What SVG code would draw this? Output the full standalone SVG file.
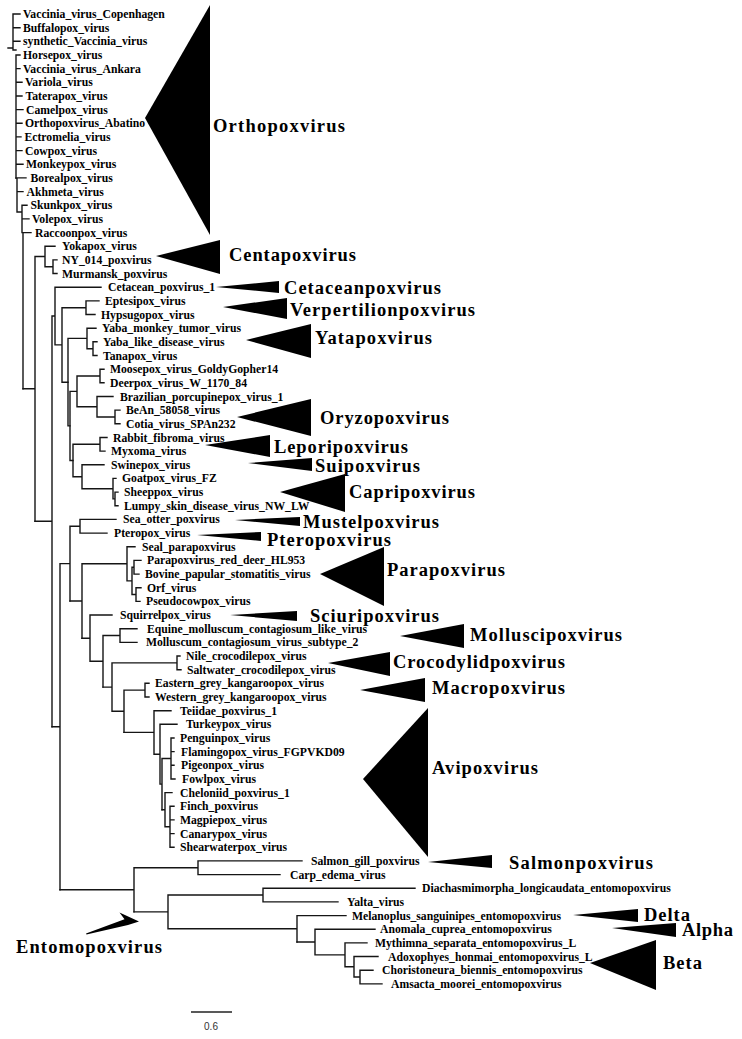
<svg xmlns="http://www.w3.org/2000/svg" width="742" height="1039" viewBox="0 0 742 1039">
<style>
.leaf{font-family:"Liberation Serif","Times New Roman",serif;font-weight:bold;font-size:11.7px;fill:#000}
.clade{font-family:"Liberation Serif","Times New Roman",serif;font-weight:bold;font-size:18.5px;fill:#000}
.br{stroke:#151515;stroke-width:1.4;fill:none;stroke-linecap:square}
.tri{fill:#000}
.scale{font-family:"Liberation Sans",Arial,sans-serif;font-size:10px;fill:#333}
</style>
<rect width="742" height="1039" fill="#fff"/>
<g id="branches" class="br">
<path d="M8,48H13 M13,14V50 M13,14H20 M13,27.7H20 M13,41.3H20 M13,50H16 M16,55V178 M16,55H20 M16,68.6H20 M16,82.3H22 M16,96H22 M16,109.6H23 M16,123.3H22 M16,136.9H21 M16,150.6H22 M16,164.3H23"/>
<path d="M16,178H17 M17,178V212 M17,177.9H26 M17,191.6H23 M17,212H22 M22,205.2V232.6 M22,205.2H27 M22,218.9H29 M22,232.6H23 M23,232.6V388.8 M23,232.6H31"/>
<path d="M23,388.8H35 M35,256.5V521.2 M35,256.5H45 M45,246.2V266.7 M45,246.2H55 M45,266.7H53 M53,259.9V273.5 M53,259.9H57 M53,273.5H57"/>
<path d="M35,521.2H52 M52,316V726.7 M52,316H55 M55,287.2V344.9 M55,287.2H101 M55,344.9H62 M62,307.7V382.2 M62,307.7H86 M62,382.2H68 M86,300.9V314.5 M86,300.9H99 M86,314.5H95"/>
<path d="M68,338.4V425.9 M68,338.4H87 M68,425.9H70 M87,328.2V348.7 M87,328.2H96 M87,348.7H93 M93,341.8V355.5 M93,341.8H97 M93,355.5H97"/>
<path d="M70,391.4V460.5 M70,391.4H77 M70,460.5H73 M77,376V406.7 M77,376H100 M77,406.7H97 M100,369.2V382.8 M100,369.2H104 M100,382.8H104 M97,396.5V417 M97,396.5H113 M97,417H115 M115,410.1V423.8 M115,410.1H120 M115,423.8H120"/>
<path d="M73,444.3V476.7 M73,444.3H100 M73,476.7H82 M100,437.5V451.1 M100,437.5H107 M100,451.1H105 M82,464.8V488.7 M82,464.8H104 M82,488.7H113 M113,478.4V498.9 M113,478.4H116 M113,498.9H115 M115,492.1V505.8 M115,492.1H118 M115,505.8H118"/>
<path d="M52,726.7H60 M60,563.6V889.8 M60,563.6H70 M70,526.3V601 M70,526.3H80 M80,519.4V533.1 M80,519.4H116 M80,533.1H107"/>
<path d="M70,601H82 M82,563.8V638.2 M82,563.8H127 M127,546.7V580.9 M127,546.7H135 M127,580.9H132 M132,567.2V594.5 M132,567.2H134 M132,594.5H136 M134,560.4V574.1 M134,560.4H141 M134,574.1H139 M136,587.7V601.4 M136,587.7H141 M136,601.4H140"/>
<path d="M82,638.2H90 M90,615V661.3 M90,615H112 M90,661.3H103 M103,635.5V687.1 M103,635.5H120 M120,628.7V642.4 M120,628.7H137 M120,642.4H137"/>
<path d="M103,687.1H112 M112,662.9V711.3 M112,662.9H177 M177,656V669.7 M177,656H180 M177,669.7H181 M112,711.3H124 M124,690.1V732.4 M124,690.1H145 M145,683.3V697 M145,683.3H149 M145,697H149"/>
<path d="M124,732.4H154 M154,710.7V754.2 M154,710.7H171 M154,754.2H160 M160,724.3V784.1 M160,724.3H177 M160,784.1H162 M162,758.5V809.7 M162,758.5H171 M171,738V779 M171,738H174 M171,751.6H174 M171,765.3H174 M171,779H175"/>
<path d="M162,809.7H165 M165,792.6V826.8 M165,792.6H172 M165,826.8H170 M170,806.3V847.3 M170,806.3H174 M170,819.9H174 M170,833.6H174 M170,847.3H174"/>
<path d="M60,889.8H134 M134,867.8V911.9 M134,867.8H198 M198,860.9V874.6 M198,860.9H302 M198,874.6H280"/>
<path d="M134,911.9H168 M168,895V928.8 M168,895H263 M263,888.2V901.9 M263,888.2H415 M263,901.9H338 M168,928.8H297 M297,915.6V942 M297,915.6H346"/>
<path d="M297,942H315 M315,929.2V954.9 M315,929.2H375 M315,954.9H345 M345,942.9V966.8 M345,942.9H367 M345,966.8H354 M354,956.5V977 M354,956.5H378 M354,977H360 M360,970.2V983.9 M360,970.2H373 M360,983.9H382"/>
</g>
<g id="leaves" class="leaf">
<g id="leaf-Vaccinia_virus_Copenhagen"><text x="23" y="18">Vaccinia_virus_Copenhagen</text></g>
<g id="leaf-Buffalopox_virus"><text x="23" y="31.7">Buffalopox_virus</text></g>
<g id="leaf-synthetic_Vaccinia_virus"><text x="23" y="45.3">synthetic_Vaccinia_virus</text></g>
<g id="leaf-Horsepox_virus"><text x="23" y="59">Horsepox_virus</text></g>
<g id="leaf-Vaccinia_virus_Ankara"><text x="23" y="72.6">Vaccinia_virus_Ankara</text></g>
<g id="leaf-Variola_virus"><text x="25" y="86.3">Variola_virus</text></g>
<g id="leaf-Taterapox_virus"><text x="25.5" y="100">Taterapox_virus</text></g>
<g id="leaf-Camelpox_virus"><text x="26" y="113.6">Camelpox_virus</text></g>
<g id="leaf-Orthopoxvirus_Abatino"><text x="25" y="127.3">Orthopoxvirus_Abatino</text></g>
<g id="leaf-Ectromelia_virus"><text x="24.5" y="140.9">Ectromelia_virus</text></g>
<g id="leaf-Cowpox_virus"><text x="25" y="154.6">Cowpox_virus</text></g>
<g id="leaf-Monkeypox_virus"><text x="26" y="168.3">Monkeypox_virus</text></g>
<g id="leaf-Borealpox_virus"><text x="30.5" y="181.9">Borealpox_virus</text></g>
<g id="leaf-Akhmeta_virus"><text x="26.5" y="195.6">Akhmeta_virus</text></g>
<g id="leaf-Skunkpox_virus"><text x="30.5" y="209.2">Skunkpox_virus</text></g>
<g id="leaf-Volepox_virus"><text x="32" y="222.9">Volepox_virus</text></g>
<g id="leaf-Raccoonpox_virus"><text x="35" y="236.6">Raccoonpox_virus</text></g>
<g id="leaf-Yokapox_virus"><text x="62" y="250.2">Yokapox_virus</text></g>
<g id="leaf-NY_014_poxvirus"><text x="62" y="263.9">NY_014_poxvirus</text></g>
<g id="leaf-Murmansk_poxvirus"><text x="62" y="277.5">Murmansk_poxvirus</text></g>
<g id="leaf-Cetacean_poxvirus_1"><text x="108" y="291.2">Cetacean_poxvirus_1</text></g>
<g id="leaf-Eptesipox_virus"><text x="105" y="304.9">Eptesipox_virus</text></g>
<g id="leaf-Hypsugopox_virus"><text x="101" y="318.5">Hypsugopox_virus</text></g>
<g id="leaf-Yaba_monkey_tumor_virus"><text x="102" y="332.2">Yaba_monkey_tumor_virus</text></g>
<g id="leaf-Yaba_like_disease_virus"><text x="103" y="345.8">Yaba_like_disease_virus</text></g>
<g id="leaf-Tanapox_virus"><text x="103" y="359.5">Tanapox_virus</text></g>
<g id="leaf-Moosepox_virus_GoldyGopher14"><text x="110" y="373.2">Moosepox_virus_GoldyGopher14</text></g>
<g id="leaf-Deerpox_virus_W_1170_84"><text x="110" y="386.8">Deerpox_virus_W_1170_84</text></g>
<g id="leaf-Brazilian_porcupinepox_virus_1"><text x="120" y="400.5">Brazilian_porcupinepox_virus_1</text></g>
<g id="leaf-BeAn_58058_virus"><text x="126" y="414.1">BeAn_58058_virus</text></g>
<g id="leaf-Cotia_virus_SPAn232"><text x="126" y="427.8">Cotia_virus_SPAn232</text></g>
<g id="leaf-Rabbit_fibroma_virus"><text x="113" y="441.5">Rabbit_fibroma_virus</text></g>
<g id="leaf-Myxoma_virus"><text x="111" y="455.1">Myxoma_virus</text></g>
<g id="leaf-Swinepox_virus"><text x="111" y="468.8">Swinepox_virus</text></g>
<g id="leaf-Goatpox_virus_FZ"><text x="122" y="482.4">Goatpox_virus_FZ</text></g>
<g id="leaf-Sheeppox_virus"><text x="124" y="496.1">Sheeppox_virus</text></g>
<g id="leaf-Lumpy_skin_disease_virus_NW_LW"><text x="124" y="509.8">Lumpy_skin_disease_virus_NW_LW</text></g>
<g id="leaf-Sea_otter_poxvirus"><text x="123" y="523.4">Sea_otter_poxvirus</text></g>
<g id="leaf-Pteropox_virus"><text x="114" y="537.1">Pteropox_virus</text></g>
<g id="leaf-Seal_parapoxvirus"><text x="142" y="550.7">Seal_parapoxvirus</text></g>
<g id="leaf-Parapoxvirus_red_deer_HL953"><text x="147" y="564.4">Parapoxvirus_red_deer_HL953</text></g>
<g id="leaf-Bovine_papular_stomatitis_virus"><text x="145" y="578.1">Bovine_papular_stomatitis_virus</text></g>
<g id="leaf-Orf_virus"><text x="147" y="591.7">Orf_virus</text></g>
<g id="leaf-Pseudocowpox_virus"><text x="146" y="605.4">Pseudocowpox_virus</text></g>
<g id="leaf-Squirrelpox_virus"><text x="120" y="619">Squirrelpox_virus</text></g>
<g id="leaf-Equine_molluscum_contagiosum_like_virus"><text x="147" y="632.7">Equine_molluscum_contagiosum_like_virus</text></g>
<g id="leaf-Molluscum_contagiosum_virus_subtype_2"><text x="146" y="646.4">Molluscum_contagiosum_virus_subtype_2</text></g>
<g id="leaf-Nile_crocodilepox_virus"><text x="186" y="660">Nile_crocodilepox_virus</text></g>
<g id="leaf-Saltwater_crocodilepox_virus"><text x="187" y="673.7">Saltwater_crocodilepox_virus</text></g>
<g id="leaf-Eastern_grey_kangaroopox_virus"><text x="155" y="687.3">Eastern_grey_kangaroopox_virus</text></g>
<g id="leaf-Western_grey_kangaroopox_virus"><text x="155" y="701">Western_grey_kangaroopox_virus</text></g>
<g id="leaf-Teiidae_poxvirus_1"><text x="180" y="714.7">Teiidae_poxvirus_1</text></g>
<g id="leaf-Turkeypox_virus"><text x="186" y="728.3">Turkeypox_virus</text></g>
<g id="leaf-Penguinpox_virus"><text x="180" y="742">Penguinpox_virus</text></g>
<g id="leaf-Flamingopox_virus_FGPVKD09"><text x="181" y="755.6">Flamingopox_virus_FGPVKD09</text></g>
<g id="leaf-Pigeonpox_virus"><text x="181" y="769.3">Pigeonpox_virus</text></g>
<g id="leaf-Fowlpox_virus"><text x="182" y="783">Fowlpox_virus</text></g>
<g id="leaf-Cheloniid_poxvirus_1"><text x="180" y="796.6">Cheloniid_poxvirus_1</text></g>
<g id="leaf-Finch_poxvirus"><text x="180" y="810.3">Finch_poxvirus</text></g>
<g id="leaf-Magpiepox_virus"><text x="180" y="823.9">Magpiepox_virus</text></g>
<g id="leaf-Canarypox_virus"><text x="180" y="837.6">Canarypox_virus</text></g>
<g id="leaf-Shearwaterpox_virus"><text x="180" y="851.3">Shearwaterpox_virus</text></g>
<g id="leaf-Salmon_gill_poxvirus"><text x="311" y="864.9">Salmon_gill_poxvirus</text></g>
<g id="leaf-Carp_edema_virus"><text x="290" y="878.6">Carp_edema_virus</text></g>
<g id="leaf-Diachasmimorpha_longicaudata_entomopoxvirus"><text x="422" y="892.2">Diachasmimorpha_longicaudata_entomopoxvirus</text></g>
<g id="leaf-Yalta_virus"><text x="347" y="905.9">Yalta_virus</text></g>
<g id="leaf-Melanoplus_sanguinipes_entomopoxvirus"><text x="352" y="919.6">Melanoplus_sanguinipes_entomopoxvirus</text></g>
<g id="leaf-Anomala_cuprea_entomopoxvirus"><text x="380" y="933.2">Anomala_cuprea_entomopoxvirus</text></g>
<g id="leaf-Mythimna_separata_entomopoxvirus_L"><text x="375" y="946.9">Mythimna_separata_entomopoxvirus_L</text></g>
<g id="leaf-Adoxophyes_honmai_entomopoxvirus_L"><text x="388" y="960.5">Adoxophyes_honmai_entomopoxvirus_L</text></g>
<g id="leaf-Choristoneura_biennis_entomopoxvirus"><text x="382" y="974.2">Choristoneura_biennis_entomopoxvirus</text></g>
<g id="leaf-Amsacta_moorei_entomopoxvirus"><text x="391" y="987.9">Amsacta_moorei_entomopoxvirus</text></g>
</g>
<g id="clades">
<g id="clade-Orthopoxvirus"><polygon class="tri" points="145,118 210,5 210,235"/><text class="clade" x="213" y="132" textLength="132">Orthopoxvirus</text></g>
<g id="clade-Centapoxvirus"><polygon class="tri" points="156,256 220,240 220,274"/><text class="clade" x="229" y="261" textLength="127">Centapoxvirus</text></g>
<g id="clade-Cetaceanpoxvirus"><polygon class="tri" points="216,287 279,281 279,293"/><text class="clade" x="284" y="294" textLength="157">Cetaceanpoxvirus</text></g>
<g id="clade-Verpertilionpoxvirus"><polygon class="tri" points="223,307 287,298 287,319"/><text class="clade" x="290" y="316" textLength="185">Verpertilionpoxvirus</text></g>
<g id="clade-Yatapoxvirus"><polygon class="tri" points="246,340 311,324 311,358"/><text class="clade" x="315" y="344" textLength="117">Yatapoxvirus</text></g>
<g id="clade-Oryzopoxvirus"><polygon class="tri" points="237,417 311,399 311,436"/><text class="clade" x="320" y="424" textLength="129">Oryzopoxvirus</text></g>
<g id="clade-Leporipoxvirus"><polygon class="tri" points="205,445 270,435 270,457"/><text class="clade" x="274" y="452.5" textLength="134">Leporipoxvirus</text></g>
<g id="clade-Suipoxvirus"><polygon class="tri" points="248,463 312,458 312,471"/><text class="clade" x="315" y="471.5" textLength="105">Suipoxvirus</text></g>
<g id="clade-Capripoxvirus"><polygon class="tri" points="280,492 345,474 345,512"/><text class="clade" x="349" y="498" textLength="126">Capripoxvirus</text></g>
<g id="clade-Mustelpoxvirus"><polygon class="tri" points="235,520 300,517 300,526"/><text class="clade" x="303" y="527.5" textLength="136">Mustelpoxvirus</text></g>
<g id="clade-Pteropoxvirus"><polygon class="tri" points="197,535 261,532 261,541"/><text class="clade" x="267" y="545.5" textLength="124">Pteropoxvirus</text></g>
<g id="clade-Parapoxvirus"><polygon class="tri" points="320,574 384,547 384,606"/><text class="clade" x="387" y="576" textLength="118">Parapoxvirus</text></g>
<g id="clade-Sciuripoxvirus"><polygon class="tri" points="230,615 297,611 297,621"/><text class="clade" x="310" y="622" textLength="129">Sciuripoxvirus</text></g>
<g id="clade-Molluscipoxvirus"><polygon class="tri" points="400,636 464,624 464,648"/><text class="clade" x="470" y="641" textLength="152">Molluscipoxvirus</text></g>
<g id="clade-Crocodylidpoxvirus"><polygon class="tri" points="328,663 390,652 390,676"/><text class="clade" x="393" y="668" textLength="172">Crocodylidpoxvirus</text></g>
<g id="clade-Macropoxvirus"><polygon class="tri" points="360,690 425,678 425,702"/><text class="clade" x="432" y="694" textLength="133">Macropoxvirus</text></g>
<g id="clade-Avipoxvirus"><polygon class="tri" points="363,779 428,708 428,857"/><text class="clade" x="432" y="774" textLength="106">Avipoxvirus</text></g>
<g id="clade-Salmonpoxvirus"><polygon class="tri" points="428,862 492,855 492,868"/><text class="clade" x="509" y="869" textLength="144">Salmonpoxvirus</text></g>
<g id="clade-Delta"><polygon class="tri" points="573,915 638,909 638,922"/><text class="clade" x="644" y="921" textLength="46">Delta</text></g>
<g id="clade-Alpha"><polygon class="tri" points="612,928 676,923 676,937"/><text class="clade" x="682" y="936" textLength="51">Alpha</text></g>
<g id="clade-Beta"><polygon class="tri" points="590,963 656,940 656,990"/><text class="clade" x="663" y="969" textLength="39">Beta</text></g>
<g id="clade-Entomopoxvirus"><polygon class="tri" points="86,933.6 124.5,919.2 119.5,912.5 139,921.5 128,925 86.5,934.6"/><text class="clade" x="16" y="953" textLength="146">Entomopoxvirus</text></g>
</g>
<g id="scale-bar"><path d="M191,1012H232" stroke="#222" stroke-width="1.3"/><text class="scale" x="211" y="1030" text-anchor="middle">0.6</text></g>
</svg>
